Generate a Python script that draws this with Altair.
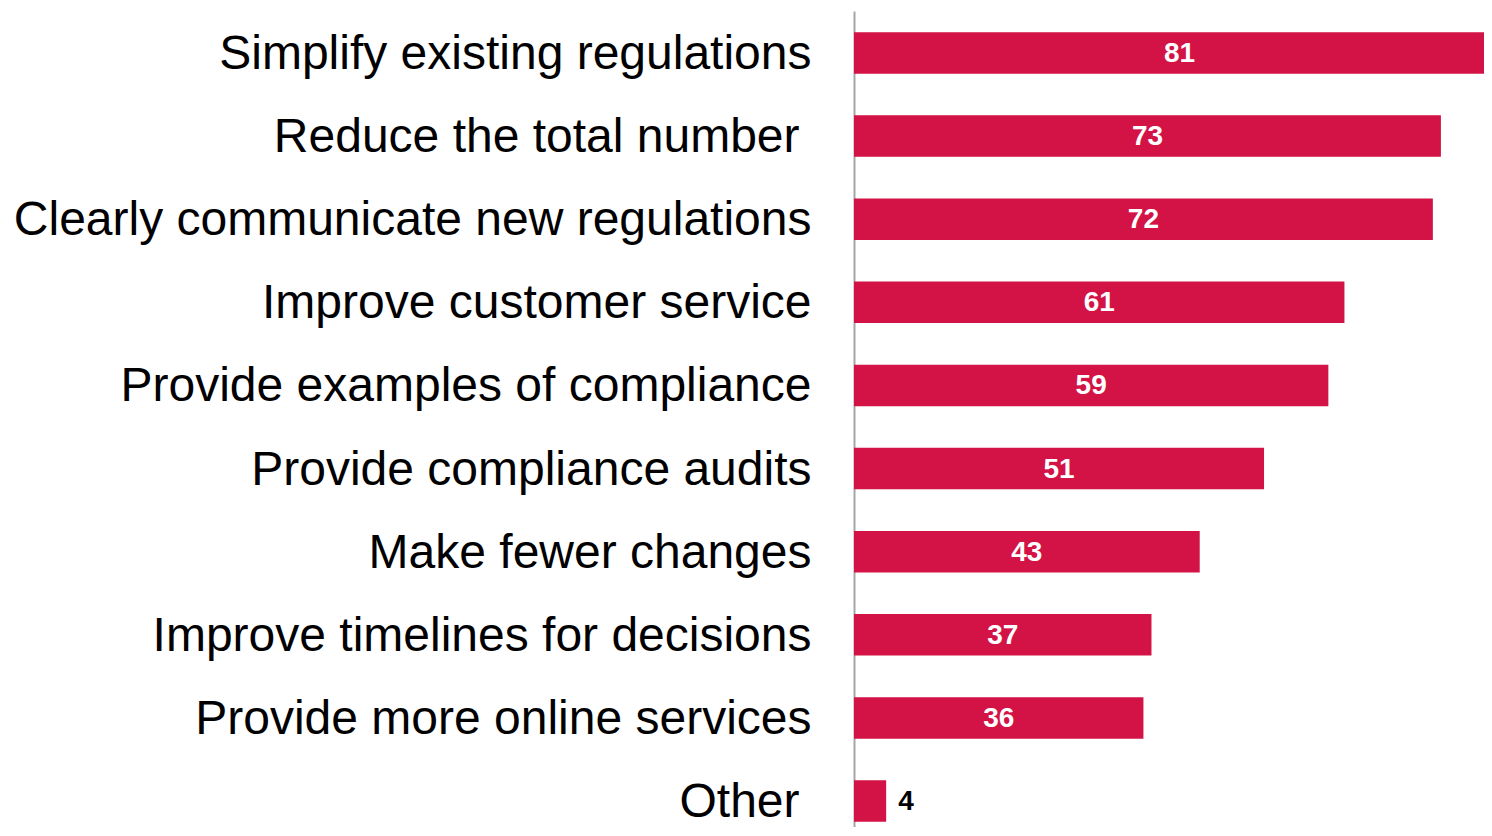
import altair as alt
import pandas as pd

categories = [
    "Simplify existing regulations",
    "Reduce the total number",
    "Clearly communicate new regulations",
    "Improve customer service",
    "Provide examples of compliance",
    "Provide compliance audits",
    "Make fewer changes",
    "Improve timelines for decisions",
    "Provide more online services",
    "Other",
]
values = [81, 73, 72, 61, 59, 51, 43, 37, 36, 4]

df = pd.DataFrame({"category": categories, "value": values})

BAR = "#D31245"
FONT = "Liberation Sans"

xscale = alt.Scale(domain=[0, 78.36], nice=False, zero=True)

y = alt.Y(
    "category:N",
    sort=categories,
    title=None,
    scale=alt.Scale(range=[0, 832], paddingInner=0.5, paddingOuter=0.255),
    axis=alt.Axis(
        ticks=False,
        labelFontSize=48,
        labelFont=FONT,
        labelColor="#000000",
        labelPadding={
            "condition": {
                "test": "datum.value == 'Reduce the total number' || datum.value == 'Other'",
                "value": 55,
            },
            "value": 43,
        },
        labelOffset=2,
        labelLimit=1000,
        domainColor="#A6A6A6",
        domainWidth=2,
        labelAlign="right",
        labelBaseline="middle",
    ),
)

bars = alt.Chart(df).mark_bar(color=BAR, clip=True).encode(
    x=alt.X("value:Q", scale=xscale, axis=None),
    y=y,
)

inner = (
    alt.Chart(df)
    .transform_filter("datum.value >= 10")
    .transform_calculate(half="datum.value / 2")
    .mark_text(color="white", font=FONT, fontWeight="bold", fontSize=28,
               align="center", baseline="middle", dy=1)
    .encode(
        x=alt.X("half:Q", scale=xscale, axis=None),
        y=alt.Y("category:N", sort=categories),
        text="value:Q",
    )
)

outer = (
    alt.Chart(df)
    .transform_filter("datum.value < 10")
    .mark_text(color="black", font=FONT, fontWeight="bold", fontSize=28,
               align="left", baseline="middle", dx=12, dy=1)
    .encode(
        x=alt.X("value:Q", scale=xscale, axis=None),
        y=alt.Y("category:N", sort=categories),
        text="value:Q",
    )
)

chart = (
    alt.layer(bars, inner, outer)
    .properties(
        width=630,
        height=813,
        padding={"left": 846, "top": 3, "right": 0, "bottom": 3},
        autosize=alt.AutoSizeParams(type="none"),
        background="white",
    )
    .configure_view(stroke=None)
)

chart.save("out.html", embed_options={"renderer": "svg", "actions": False})
